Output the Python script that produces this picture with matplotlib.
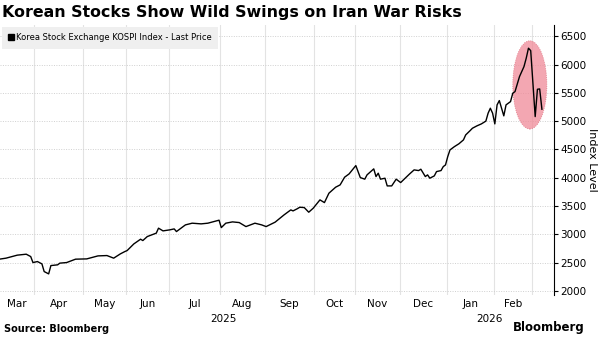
import matplotlib
matplotlib.use("Agg")
import matplotlib.pyplot as plt
from matplotlib.patches import Ellipse
from matplotlib.lines import Line2D
import pandas as pd

# KOSPI closes (trading days only)
dates = [
    "2025-03-10", "2025-03-13", "2025-03-20", "2025-03-26", "2025-03-28", "2025-03-31",
    "2025-04-02", "2025-04-04", "2025-04-07", "2025-04-09", "2025-04-10", "2025-04-15",
    "2025-04-16", "2025-04-21", "2025-04-25", "2025-05-07", "2025-05-14", "2025-05-20",
    "2025-05-23", "2025-05-28", "2025-05-30", "2025-06-02", "2025-06-09", "2025-06-12",
    "2025-06-13", "2025-06-17", "2025-06-23", "2025-06-24", "2025-06-26", "2025-07-01",
    "2025-07-03", "2025-07-04", "2025-07-10", "2025-07-15", "2025-07-21", "2025-07-24",
    "2025-07-31", "2025-08-01", "2025-08-05", "2025-08-08", "2025-08-13", "2025-08-19",
    "2025-08-25", "2025-08-28", "2025-09-01", "2025-09-05", "2025-09-11", "2025-09-16",
    "2025-09-17", "2025-09-19", "2025-09-22", "2025-09-24", "2025-09-26", "2025-09-30",
    "2025-10-10", "2025-10-14", "2025-10-16", "2025-10-21", "2025-10-23", "2025-10-27",
    "2025-10-29", "2025-11-03", "2025-11-05", "2025-11-07", "2025-11-10", "2025-11-13",
    "2025-11-14", "2025-11-17", "2025-11-18", "2025-11-20", "2025-11-21", "2025-11-25",
    "2025-11-27", "2025-12-01", "2025-12-03", "2025-12-05", "2025-12-09", "2025-12-11",
    "2025-12-12", "2025-12-16", "2025-12-17", "2025-12-18", "2025-12-22", "2025-12-23",
    "2025-12-26", "2025-12-29", "2025-12-30", "2026-01-02", "2026-01-05", "2026-01-07",
    "2026-01-09", "2026-01-13", "2026-01-14", "2026-01-16", "2026-01-19", "2026-01-21",
    "2026-01-23", "2026-01-27", "2026-01-28", "2026-01-29", "2026-01-30", "2026-02-02",
    "2026-02-03", "2026-02-04", "2026-02-06", "2026-02-09", "2026-02-11", "2026-02-12",
    "2026-02-13", "2026-02-20", "2026-02-24", "2026-02-25", "2026-02-26", "2026-02-27",
    "2026-03-04", "2026-03-05", "2026-03-06", "2026-03-09",
]
values = [
    2560, 2578, 2631, 2648, 2606, 2500,
    2518, 2477, 2341, 2300, 2447, 2460,
    2490, 2500, 2560, 2565, 2618, 2624,
    2578, 2654, 2695, 2712, 2830, 2913,
    2889, 2960, 3020, 3108, 3060, 3078,
    3095, 3048, 3166, 3196, 3184, 3196,
    3249, 3118, 3196, 3219, 3207, 3136,
    3196, 3166, 3136, 3214, 3343, 3431,
    3413, 3454, 3478, 3472, 3390, 3461,
    3608, 3560, 3726, 3832, 3873, 4009,
    4067, 4214, 4002, 3974, 4050, 4156,
    4020, 4080, 3974, 3991, 3855, 3855,
    3974, 3914, 3991, 4067, 4138, 4126,
    4150, 4020, 4050, 3991, 4032, 4108,
    4126, 4196, 4226, 4373, 4491, 4550,
    4600, 4668, 4756, 4833, 4874, 4916,
    4951, 5000, 5140, 5228, 5140, 4951,
    5287, 5363, 5093, 5287, 5345, 5493,
    5522, 5787, 5964, 6112, 6289, 6246,
    5080, 5563, 5569, 5210,
]
month_names = ["Mar", "Apr", "May", "Jun", "Jul", "Aug", "Sep", "Oct", "Nov", "Dec", "Jan", "Feb"]
y_ticks = [2000, 2500, 3000, 3500, 4000, 4500, 5000, 5500, 6000, 6500]

# KRX holidays -> x axis counts trading sessions, like the Bloomberg chart
krx_holidays = [
    "2025-03-03", "2025-05-01", "2025-05-05", "2025-05-06", "2025-06-03", "2025-06-06",
    "2025-08-15", "2025-10-03", "2025-10-06", "2025-10-07", "2025-10-08", "2025-10-09",
    "2025-12-25", "2025-12-31", "2026-01-01", "2026-02-16", "2026-02-17", "2026-02-18",
    "2026-03-02",
]
sessions = pd.bdate_range("2025-03-04", "2026-03-20", freq="C", holidays=krx_holidays)
session_pos = {d: i for i, d in enumerate(sessions)}
x = [session_pos[pd.Timestamp(d)] for d in dates]

# month boundaries (between last session of a month and first of next)
month_start = sessions.to_series().groupby(sessions.to_period("M")).first()
bounds = [session_pos[pd.Timestamp(d)] - 0.5 for d in month_start]

x_left, x_right = 4.3, 251.3

fig = plt.figure(figsize=(6, 3.37), dpi=100)
ax = fig.add_axes([0.0, 0.125, 0.923, 0.801])

ax.plot(x, values, color="black", linewidth=1.0, zorder=3)

# highlight of the recent swing
ax.add_patch(Ellipse((240.6, 5640), 15.2, 1560, facecolor="#f08a98", alpha=0.75,
                     edgecolor="#d86070", linestyle=":", linewidth=0.6, zorder=2))

ax.set_xlim(x_left, x_right)
ax.set_ylim(1929, 6700)

# grid
for b in bounds[1:]:
    if x_left < b < x_right:
        ax.axvline(b, color="#e3e3e3", linewidth=0.8, zorder=0)
for t in y_ticks:
    ax.axhline(t, color="#d0d0d0", linewidth=0.7, linestyle=(0, (1, 1.5)), zorder=0)

# month labels centred in each visible month (Mar 2026 too narrow to label)
edges = [x_left] + [b for b in bounds[1:] if x_left < b < x_right]
centers = [(a + b) / 2 for a, b in zip(edges[:-1], edges[1:])]
ax.set_xticks(centers)
ax.set_xticklabels(month_names[:len(centers)], fontsize=7.5)
ax.tick_params(axis="x", length=0, pad=3)

year_split = bounds[10]  # Jan 2026
ax.text((x_left + year_split) / 2, -0.07, "2025", transform=ax.get_xaxis_transform(),
        ha="center", va="top", fontsize=7.5)
ax.text((year_split + bounds[12]) / 2, -0.07, "2026", transform=ax.get_xaxis_transform(),
        ha="center", va="top", fontsize=7.5)

ax.yaxis.tick_right()
ax.yaxis.set_label_position("right")
ax.set_yticks(y_ticks)
ax.set_yticklabels([str(t) for t in y_ticks], fontsize=7.5)
ax.tick_params(axis="y", length=3, width=0.8, pad=1.5)
ax.set_ylabel("Index Level", fontsize=8, rotation=270, labelpad=8)

for s in ["top", "left", "bottom"]:
    ax.spines[s].set_visible(False)
ax.spines["right"].set_linewidth(0.8)

handle = Line2D([], [], color="black", marker="s", markersize=4, linestyle="none")
leg = ax.legend([handle], ["Korea Stock Exchange KOSPI Index - Last Price"],
                loc="upper left", bbox_to_anchor=(0.004, 0.992), fontsize=6,
                frameon=True, fancybox=False, handlelength=0.6, handletextpad=0.3,
                borderpad=0.75, borderaxespad=0)
leg.get_frame().set_facecolor("#efefef")
leg.get_frame().set_edgecolor("none")
leg.get_frame().set_alpha(1)

fig.text(0.004, 0.985, "Korean Stocks Show Wild Swings on Iran War Risks",
         fontsize=11.4, fontweight="bold", ha="left", va="top")
fig.text(0.006, 0.008, "Source: Bloomberg", fontsize=7, fontweight="bold",
         ha="left", va="bottom")
fig.text(0.975, 0.008, "Bloomberg", fontsize=8.5, fontweight="bold",
         ha="right", va="bottom")

fig.savefig("out.png", dpi=100)
